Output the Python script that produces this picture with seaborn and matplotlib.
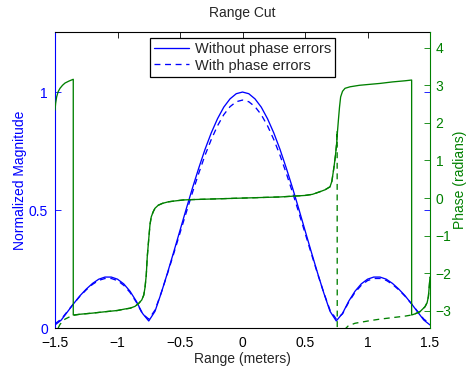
import matplotlib
matplotlib.use("Agg")
import matplotlib.pyplot as plt
import seaborn as sns

sns.set_style("white")
plt.rcParams["font.family"] = ["Liberation Sans", "DejaVu Sans"]
plt.rcParams["font.size"] = 10

BLUE = (0.0, 0.0, 1.0)
GREEN = (0.0, 0.5, 0.0)

# Range samples (meters) for the magnitude curves
range_m = [
    -1.50, -1.45, -1.40, -1.35, -1.30, -1.25, -1.20, -1.15, -1.10, -1.05,
    -1.00, -0.95, -0.90, -0.85, -0.80, -0.75, -0.70, -0.65, -0.60, -0.55,
    -0.50, -0.45, -0.40, -0.35, -0.30, -0.25, -0.20, -0.15, -0.10, -0.05,
    0.00, 0.05, 0.10, 0.15, 0.20, 0.25, 0.30, 0.35, 0.40, 0.45,
    0.50, 0.55, 0.60, 0.65, 0.70, 0.75, 0.80, 0.85, 0.90, 0.95,
    1.00, 1.05, 1.10, 1.15, 1.20, 1.25, 1.30, 1.35, 1.40, 1.45, 1.50,
]

# Normalized magnitude without phase errors
mag_ideal = [
    0.013, 0.034, 0.069, 0.104, 0.137, 0.165, 0.189, 0.207, 0.216, 0.216,
    0.207, 0.187, 0.156, 0.114, 0.062, 0.030, 0.071, 0.149, 0.234, 0.323,
    0.414, 0.505, 0.594, 0.678, 0.757, 0.827, 0.887, 0.936, 0.971, 0.993,
    1.000, 0.993, 0.971, 0.936, 0.887, 0.827, 0.757, 0.678, 0.594, 0.505,
    0.414, 0.323, 0.234, 0.149, 0.071, 0.030, 0.062, 0.114, 0.156, 0.187,
    0.207, 0.216, 0.216, 0.207, 0.189, 0.165, 0.137, 0.104, 0.069, 0.034, 0.013,
]

# Normalized magnitude with phase errors
mag_err = [
    0.018, 0.038, 0.071, 0.104, 0.135, 0.162, 0.185, 0.202, 0.210, 0.210,
    0.201, 0.181, 0.151, 0.110, 0.060, 0.038, 0.076, 0.150, 0.231, 0.316,
    0.403, 0.490, 0.575, 0.656, 0.732, 0.799, 0.857, 0.904, 0.938, 0.959,
    0.966, 0.959, 0.938, 0.904, 0.857, 0.799, 0.732, 0.656, 0.575, 0.490,
    0.403, 0.316, 0.231, 0.150, 0.076, 0.038, 0.060, 0.110, 0.151, 0.181,
    0.201, 0.210, 0.210, 0.202, 0.185, 0.162, 0.135, 0.104, 0.071, 0.038, 0.018,
]

# Wrapped phase without phase errors
phase_x = [
    -1.500, -1.495, -1.487, -1.475, -1.460, -1.440, -1.420, -1.390, -1.354, -1.354,
    -1.300, -1.200, -1.090, -1.000, -0.940, -0.900, -0.860, -0.830, -0.806, -0.790,
    -0.780, -0.770, -0.762, -0.750, -0.740, -0.730, -0.714, -0.700, -0.674, -0.640,
    -0.594, -0.550, -0.474, -0.400, -0.300, -0.200, -0.100, 0.000, 0.100, 0.200,
    0.300, 0.400, 0.500, 0.560, 0.620, 0.660, 0.700, 0.715, 0.732, 0.743,
    0.753, 0.760, 0.767, 0.776, 0.785, 0.800, 0.820, 0.860, 0.935, 1.000,
    1.100, 1.200, 1.300, 1.353, 1.353, 1.380, 1.420, 1.460, 1.477, 1.487,
    1.495, 1.500,
]
phase_ideal = [
    2.34, 2.52, 2.69, 2.83, 2.92, 3.00, 3.06, 3.11, 3.16, -3.11,
    -3.09, -3.06, -3.02, -2.99, -2.95, -2.93, -2.88, -2.80, -2.71, -2.58,
    -2.38, -2.05, -1.56, -1.08, -0.70, -0.50, -0.36, -0.27, -0.19, -0.14,
    -0.10, -0.08, -0.05, -0.04, -0.03, -0.02, -0.01, 0.00, 0.01, 0.02,
    0.03, 0.05, 0.07, 0.10, 0.17, 0.22, 0.30, 0.45, 0.83, 1.12,
    1.45, 1.78, 2.07, 2.42, 2.69, 2.84, 2.92, 2.96, 3.00, 3.02,
    3.05, 3.09, 3.12, 3.14, -3.11, -3.08, -3.02, -2.89, -2.78, -2.62,
    -2.31, -2.10,
]

# Wrapped phase with phase errors
phase_err_x = [
    -1.475, -1.460, -1.440, -1.420, -1.390, -1.354,
    -1.300, -1.200, -1.090, -1.000, -0.940, -0.900, -0.860, -0.830, -0.806, -0.790,
    -0.780, -0.770, -0.762, -0.750, -0.740, -0.730, -0.714, -0.700, -0.674, -0.640,
    -0.594, -0.550, -0.474, -0.400, -0.300, -0.200, -0.100, 0.000, 0.100, 0.200,
    0.300, 0.400, 0.500, 0.560, 0.620, 0.660, 0.700, 0.715, 0.732, 0.743,
    0.753, 0.757, 0.758, 0.800, 0.846, 0.900, 1.020, 1.100, 1.200, 1.300,
    1.353, 1.380, 1.420, 1.460, 1.477, 1.487, 1.495, 1.500,
]
phase_err = [
    -3.46, -3.36, -3.28, -3.22, -3.17, -3.12,
    -3.09, -3.06, -3.02, -2.99, -2.95, -2.93, -2.88, -2.80, -2.71, -2.58,
    -2.38, -2.05, -1.56, -1.08, -0.70, -0.50, -0.36, -0.27, -0.19, -0.14,
    -0.10, -0.08, -0.05, -0.04, -0.03, -0.02, -0.01, 0.00, 0.01, 0.02,
    0.03, 0.05, 0.07, 0.10, 0.17, 0.22, 0.30, 0.45, 0.83, 1.12,
    1.45, 1.80, -4.50, -3.55, -3.40, -3.33, -3.26, -3.22, -3.18, -3.14,
    -3.11, -3.08, -3.02, -2.89, -2.78, -2.62, -2.31, -2.10,
]

x_ticks = [-1.5, -1.0, -0.5, 0.0, 0.5, 1.0, 1.5]
x_tick_labels = ["\u22121.5", "\u22121", "\u22120.5", "0", "0.5", "1", "1.5"]
mag_ticks = [0.0, 0.5, 1.0]
mag_tick_labels = ["0", "0.5", "1"]
phase_ticks = [-3, -2, -1, 0, 1, 2, 3, 4]
phase_tick_labels = ["\u22123", "\u22122", "\u22121", "0", "1", "2", "3", "4"]

fig = plt.figure(figsize=(4.67, 3.69), dpi=100)
ax = fig.add_axes([0.1178, 0.111, 0.803, 0.802])
ax2 = ax.twinx()

lw = 0.95
sns.lineplot(x=range_m, y=mag_ideal, ax=ax, color=BLUE, lw=lw,
             estimator=None, sort=False, label="Without phase errors")
sns.lineplot(x=range_m, y=mag_err, ax=ax, color=BLUE, lw=lw, ls=(0, (4.5, 3.5)),
             estimator=None, sort=False, label="With phase errors")
sns.lineplot(x=phase_x, y=phase_ideal, ax=ax2, color=GREEN, lw=lw,
             estimator=None, sort=False, legend=False)
sns.lineplot(x=phase_err_x, y=phase_err, ax=ax2, color=GREEN, lw=lw, ls=(0, (4.5, 3.5)),
             estimator=None, sort=False, legend=False)

ax.set_xlim(-1.5, 1.5)
ax.set_ylim(0, 1.254)
ax2.set_ylim(-3.457, 4.415)

ax.set_xticks(x_ticks)
ax.set_xticklabels(x_tick_labels)
ax.set_yticks(mag_ticks)
ax.set_yticklabels(mag_tick_labels)
ax2.set_yticks(phase_ticks)
ax2.set_yticklabels(phase_tick_labels)

ax.tick_params(axis="x", direction="in", length=4, width=0.6, top=True,
               colors="black", pad=6)
ax.tick_params(axis="y", direction="in", length=4, width=0.6, right=True,
               color=BLUE, labelcolor=BLUE, pad=5)
ax2.tick_params(axis="y", direction="in", length=4, width=0.6,
                color=GREEN, labelcolor=GREEN, pad=4)

for side in ["top", "bottom"]:
    ax.spines[side].set_color("black")
    ax.spines[side].set_linewidth(0.8)
ax.spines["left"].set_color(BLUE)
ax.spines["left"].set_linewidth(0.8)
ax.spines["right"].set_visible(False)
for side in ["top", "bottom", "left"]:
    ax2.spines[side].set_visible(False)
ax2.spines["right"].set_color(GREEN)
ax2.spines["right"].set_linewidth(0.8)

ax.set_title("Range Cut", fontsize=10, pad=11)
ax.set_xlabel("Range (meters)", fontsize=10, labelpad=1)
ax.set_ylabel("Normalized Magnitude", fontsize=10, color=BLUE, labelpad=1)
ax2.set_ylabel("Phase (radians)", fontsize=10, color=GREEN, labelpad=1)

leg = ax.legend(loc="upper center", bbox_to_anchor=(0.5, 0.99), fontsize=10.5,
                frameon=True, fancybox=False, handlelength=2.4,
                borderpad=0.3, labelspacing=0.15, handletextpad=0.4,
                borderaxespad=0.2)
leg.get_frame().set_edgecolor("black")
leg.get_frame().set_linewidth(0.9)
leg.get_frame().set_alpha(1.0)

fig.savefig("out.png", dpi=100)
